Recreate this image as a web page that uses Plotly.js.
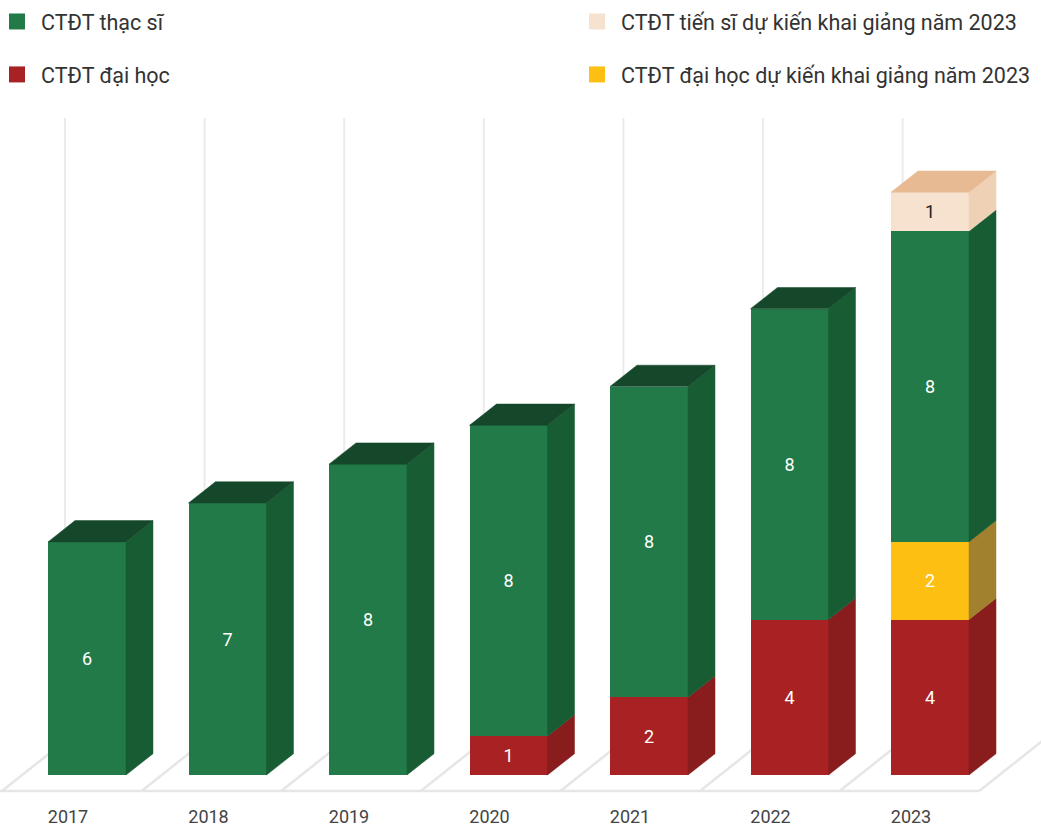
<!DOCTYPE html>
<html>
<head>
<meta charset="utf-8">
<script src="https://cdn.plot.ly/plotly-3.0.1.min.js"></script>
<style>html,body{margin:0;padding:0;background:#fff;}#chart{width:1041px;height:827px;}</style>
</head>
<body>
<div id="chart"></div>
<script>
// ---- data ----
const years = ['2017', '2018', '2019', '2020', '2021', '2022', '2023'];
const daiHoc = [0, 0, 0, 1, 2, 4, 4];          // CTĐT đại học
const daiHocDuKien = [0, 0, 0, 0, 0, 0, 2];    // CTĐT đại học dự kiến khai giảng năm 2023
const thacSi = [6, 7, 8, 8, 8, 8, 8];          // CTĐT thạc sĩ
const tienSiDuKien = [0, 0, 0, 0, 0, 0, 1];    // CTĐT tiến sĩ dự kiến khai giảng năm 2023
const seriesNames = ['CTĐT đại học', 'CTĐT đại học dự kiến khai giảng năm 2023', 'CTĐT thạc sĩ', 'CTĐT tiến sĩ dự kiến khai giảng năm 2023'];

// ---- styling / geometry (pixels -> data units) ----
const X0PX = 87, XSTEP = 140.5, Y0PX = 775, YSTEP = 38.85;
const W = 78 / XSTEP;
const DX = 27 / XSTEP, DY = 21.3 / YSTEP;
const px2x = p => (p - X0PX) / XSTEP;
const px2y = p => (Y0PX - p) / YSTEP;
const MB = 27;
const W_PX = 1041, H_PX = 827;

const styles = [
  {front: '#A82224', side: '#891C1D', top: '#74181A', text: '#ffffff'},
  {front: '#FDBF12', side: '#A1802E', top: '#8a6c22', text: '#ffffff'},
  {front: '#237A49', side: '#185C34', top: '#15482A', text: '#ffffff'},
  {front: '#F6E2CF', side: '#EFD1B5', top: '#E8BA93', text: '#222222'}
];
const stackSeries = [daiHoc, daiHocDuKien, thacSi, tienSiDuKien];
const idx = years.map((_, i) => i);

const traces = [];
const sideTraces = [];
const cum = years.map(() => 0);
const topInfo = years.map(() => ({v: 0, s: 0}));

stackSeries.forEach((vals, s) => {
  traces.push({
    type: 'bar', x: idx, y: vals, width: W, name: seriesNames[s],
    marker: {color: styles[s].front, line: {width: 0}},
    text: vals.map(v => v > 0 ? String(v) : ''),
    textposition: 'inside', insidetextanchor: 'middle', textangle: 0,
    constraintext: 'none',
    textfont: {family: 'Roboto, sans-serif', size: 18, color: styles[s].text},
    showlegend: false, hoverinfo: 'x+y+name'
  });
  vals.forEach((v, i) => {
    if (v <= 0) return;
    const b = cum[i], t = cum[i] + v;
    const r = i + W / 2;
    sideTraces.push({
      type: 'scatter', mode: 'lines', fill: 'toself',
      x: [r, r + DX, r + DX, r, r], y: [b, b + DY, t + DY, t, b],
      fillcolor: styles[s].side, line: {width: 0.5, color: styles[s].side},
      showlegend: false, hoverinfo: 'skip'
    });
    cum[i] = t;
    topInfo[i] = {v: t, s: s};
  });
});
topInfo.forEach((ti, i) => {
  const l = i - W / 2, r = i + W / 2, T = ti.v;
  sideTraces.push({
    type: 'scatter', mode: 'lines', fill: 'toself',
    x: [l, l + DX, r + DX, r, l], y: [T, T + DY, T + DY, T, T],
    fillcolor: styles[ti.s].top, line: {width: 0.5, color: styles[ti.s].top},
    showlegend: false, hoverinfo: 'skip'
  });
});

// legend entries
const legendDefs = [
  {name: seriesNames[2], color: styles[2].front, legend: 'legend'},
  {name: seriesNames[0], color: styles[0].front, legend: 'legend'},
  {name: seriesNames[3], color: styles[3].front, legend: 'legend2'},
  {name: seriesNames[1], color: styles[1].front, legend: 'legend2'}
];
const legendTraces = legendDefs.map((d, k) => ({
  type: 'scatter', mode: 'markers', x: [null], y: [null], name: d.name,
  legend: d.legend, legendgroup: 'g' + k,
  marker: {symbol: 'square', size: 16, color: d.color}, hoverinfo: 'skip'
}));

// floor + back gridlines (shapes, below)
const shapes = [];
const FLOOR_FRONT = 791, FLOOR_BACK = 741, FSEP0 = 2, FSTEP = 139.6, FDX = 63;
shapes.push({type: 'line', layer: 'below', x0: px2x(-2), x1: px2x(FSEP0 + 7 * FSTEP), y0: px2y(FLOOR_FRONT), y1: px2y(FLOOR_FRONT),
  line: {color: '#E6E6E6', width: 2.5}});
for (let k = 0; k <= 7; k++) {
  const fx = FSEP0 + k * FSTEP;
  shapes.push({type: 'line', layer: 'below', x0: px2x(fx), y0: px2y(FLOOR_FRONT), x1: px2x(fx + FDX), y1: px2y(FLOOR_BACK),
    line: {color: '#E6E6E6', width: 2.5}});
  shapes.push({type: 'line', layer: 'below', x0: px2x(fx + FDX), y0: px2y(FLOOR_BACK), x1: px2x(fx + FDX), y1: px2y(118),
    line: {color: '#EBEBEB', width: 2}});
}

const labelShift = 19 / XSTEP;
const legendFont = {family: 'Roboto, sans-serif', size: 21.5, color: '#333333'};
const legendY = 1 - 1 / (H_PX - MB);
const layout = {
  width: W_PX, height: H_PX,
  margin: {l: 0, r: 0, t: 0, b: MB, pad: 0, autoexpand: false},
  paper_bgcolor: '#ffffff', plot_bgcolor: '#ffffff',
  barmode: 'stack',
  font: {family: 'Roboto, sans-serif', color: '#333333'},
  xaxis: {
    range: [px2x(0), px2x(W_PX)], showgrid: false, zeroline: false, showline: false,
    ticks: '', tickvals: idx.map(i => i - labelShift), ticktext: years, ticklabelstandoff: 4,
    tickfont: {family: 'Roboto, sans-serif', size: 18, color: '#444444'},
    fixedrange: true, automargin: false
  },
  yaxis: {range: [px2y(H_PX - MB), px2y(0)], visible: false, fixedrange: true, automargin: false},
  shapes: shapes,
  showlegend: true,
  legend: {x: -7 / W_PX, xanchor: 'left', y: legendY, yanchor: 'top', xref: 'paper', yref: 'paper',
    orientation: 'v', traceorder: 'grouped', tracegroupgap: 22, itemwidth: 38,
    font: legendFont, bgcolor: 'rgba(0,0,0,0)'},
  legend2: {x: 573 / W_PX, xanchor: 'left', y: legendY, yanchor: 'top', xref: 'paper', yref: 'paper',
    orientation: 'v', traceorder: 'grouped', tracegroupgap: 22, itemwidth: 38,
    font: legendFont, bgcolor: 'rgba(0,0,0,0)'}
};

Plotly.newPlot('chart', traces.concat(sideTraces, legendTraces), layout, {displayModeBar: false, staticPlot: true});
</script>
</body>
</html>
